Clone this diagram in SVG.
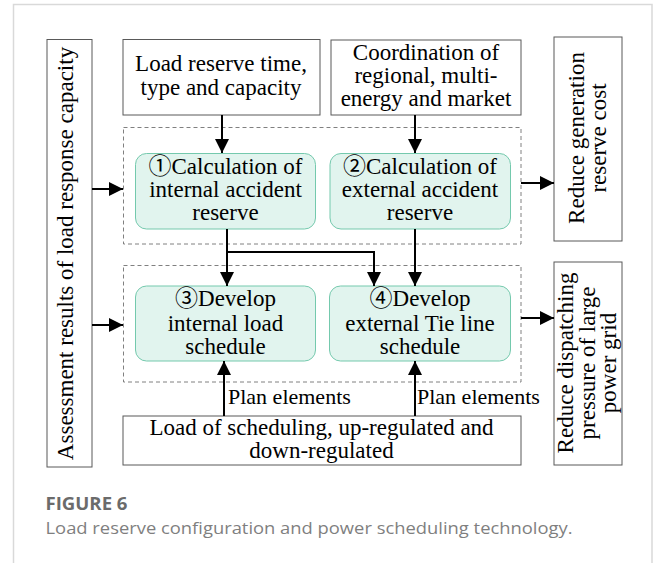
<svg xmlns="http://www.w3.org/2000/svg" width="656" height="563" viewBox="0 0 656 563">
<defs>
<marker id="ah" markerUnits="userSpaceOnUse" markerWidth="15" markerHeight="14" refX="14" refY="7" orient="auto">
<path d="M0,0 L14,7 L0,14 z" fill="#000"/>
</marker>
<style>
.t{font-family:"Liberation Serif","Noto Sans CJK SC",serif;font-size:23px;fill:#000;text-anchor:middle}
.lbl{font-family:"Liberation Serif",serif;font-size:22px;fill:#000}
.box{fill:#fff;stroke:#595959;stroke-width:1}
.node{fill:#e1f4ee;stroke:#74c9ad;stroke-width:1}
.grp{fill:none;stroke:#808080;stroke-width:1;stroke-dasharray:4 3}
.c{fill:none;stroke:#000;stroke-width:2}
.ca{fill:none;stroke:#000;stroke-width:2;marker-end:url(#ah)}
</style>
</defs>
<rect width="656" height="563" fill="#fff"/>
<path d="M13.5,563 V4.5 H652 V563" fill="none" stroke="#d9d9d9" stroke-width="1.5"/>

<g id="groups">
<rect class="grp" x="123.5" y="127.5" width="397.5" height="116.5"/>
<rect class="grp" x="123.5" y="265.5" width="397.5" height="116.5"/>
</g>

<g id="assessment">
<rect class="box" x="47" y="39.5" width="45" height="427.5"/>
<text class="t" transform="translate(73,253.5) rotate(-90)">Assessment results of load response capacity</text>
</g>

<g id="load-reserve">
<rect class="box" x="123" y="39.5" width="197" height="75.5"/>
<text class="t"><tspan x="221" y="71">Load reserve time,</tspan><tspan x="221" y="94.5">type and capacity</tspan></text>
</g>

<g id="coordination">
<rect class="box" x="331" y="40" width="190" height="75"/>
<text class="t"><tspan x="426" y="60">Coordination of</tspan><tspan x="426" y="83">regional, multi-</tspan><tspan x="426" y="106">energy and market</tspan></text>
</g>

<g id="reduce-generation">
<rect class="box" x="554" y="37" width="68" height="204"/>
<text class="t" transform="translate(584,138) rotate(-90)"><tspan x="0" y="0">Reduce generation</tspan><tspan x="0" y="22">reserve cost</tspan></text>
</g>

<g id="node1">
<rect class="node" x="135.5" y="153.5" width="180" height="75.5" rx="11"/>
<text class="t"><tspan x="225.5" y="173.5">①Calculation of</tspan><tspan x="225.5" y="197">internal accident</tspan><tspan x="225.5" y="220">reserve</tspan></text>
</g>

<g id="node2">
<rect class="node" x="330" y="153.5" width="180.5" height="75.5" rx="11"/>
<text class="t"><tspan x="420" y="173.5">②Calculation of</tspan><tspan x="420" y="197">external accident</tspan><tspan x="420" y="220">reserve</tspan></text>
</g>

<g id="node3">
<rect class="node" x="135.5" y="286" width="180" height="75" rx="11"/>
<text class="t"><tspan x="225.5" y="306">③Develop</tspan><tspan x="225.5" y="330.5">internal load</tspan><tspan x="225.5" y="353.5">schedule</tspan></text>
</g>

<g id="node4">
<rect class="node" x="329.5" y="286" width="181" height="75" rx="11"/>
<text class="t"><tspan x="420" y="306">④Develop</tspan><tspan x="420" y="330.5">external Tie line</tspan><tspan x="420" y="353.5">schedule</tspan></text>
</g>

<g id="reduce-dispatching">
<rect class="box" x="554" y="262" width="68" height="203"/>
<text class="t" transform="translate(573,363) rotate(-90)"><tspan x="0" y="0">Reduce dispatching</tspan><tspan x="0" y="21.5">pressure of large</tspan><tspan x="0" y="43">power grid</tspan></text>
</g>

<g id="load-scheduling">
<rect class="box" x="123" y="416" width="398" height="49"/>
<text class="t"><tspan x="321.5" y="434.5">Load of scheduling, up-regulated and</tspan><tspan x="321.5" y="457.5">down-regulated</tspan></text>
</g>

<g id="connectors">
<line class="ca" x1="222" y1="115" x2="222" y2="153"/>
<line class="ca" x1="415" y1="115" x2="415" y2="153"/>
<line class="ca" x1="92" y1="189" x2="123" y2="189"/>
<line class="ca" x1="521" y1="183" x2="554" y2="183"/>
<line class="ca" x1="227" y1="229" x2="227" y2="286"/>
<polyline class="ca" points="227,252 374,252 374,286"/>
<line class="ca" x1="415" y1="229" x2="415" y2="286"/>
<line class="ca" x1="92" y1="325" x2="123" y2="325"/>
<line class="ca" x1="521" y1="318" x2="554" y2="318"/>
<line class="ca" x1="224" y1="416" x2="224" y2="361"/>
<line class="ca" x1="415" y1="416" x2="415" y2="361"/>
<text class="lbl" x="228" y="404">Plan elements</text>
<text class="lbl" x="417" y="404">Plan elements</text>
</g>

<g id="caption">
<text x="45.5" y="509.5" font-family="'Open Sans',sans-serif" font-weight="bold" font-size="17" fill="#6b6b6b" textLength="82" lengthAdjust="spacingAndGlyphs">FIGURE 6</text>
<text x="45.5" y="533.5" font-family="'Open Sans',sans-serif" font-size="16" fill="#7f7f7f" textLength="527" lengthAdjust="spacingAndGlyphs">Load reserve configuration and power scheduling technology.</text>
</g>
</svg>
